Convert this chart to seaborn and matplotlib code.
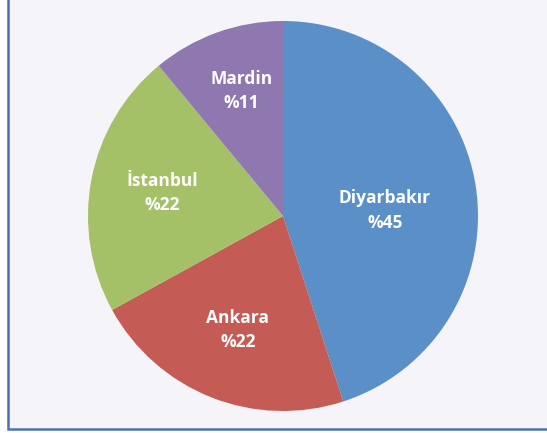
import matplotlib
matplotlib.use("Agg")
import matplotlib.pyplot as plt
import seaborn as sns
from matplotlib.patches import Rectangle

# veriler
sehirler = ["Diyarbakır", "Ankara", "İstanbul", "Mardin"]
yuzdeler = [45, 22, 22, 11]
renkler = ["#5A8FC8", "#C45B55", "#A4C167", "#8F77B0"]

sns.set_theme(style="white")
plt.rcParams['font.family'] = ['Open Sans', 'DejaVu Sans']

fig = plt.figure(figsize=(5.47, 4.33), dpi=100)
fig.patch.set_facecolor("white")

# grafik alani cercevesi
fig.patches.append(Rectangle((7.5 / 547, 4.5 / 433), 1.0, 1.0, transform=fig.transFigure,
                             facecolor="#F4F4F9", edgecolor="#4A72B0", linewidth=1.8,
                             zorder=-10))

ax = fig.add_axes([88 / 547, 22 / 433, 390 / 547, 390 / 433])
ax.set_zorder(5)
etiketler = [f"{s}\n%{v}" for s, v in zip(sehirler, yuzdeler)]
wedges, texts = ax.pie(yuzdeler, labels=etiketler, colors=renkler, startangle=90,
                       counterclock=False, labeldistance=0.63,
                       wedgeprops=dict(linewidth=0),
                       textprops=dict(color="white", fontweight="bold", fontsize=12.5,
                                      linespacing=1.45))
for t in texts:
    t.set_horizontalalignment("center")
    t.set_verticalalignment("center")
# etiketleri referanstaki yerlerine biraz kaydir
x, y = texts[0].get_position()
texts[0].set_position((x - 0.1, y - 0.07))
x, y = texts[3].get_position()
texts[3].set_position((x, y + 0.05))
ax.set_aspect("equal")
ax.set_xlim(-1, 1)
ax.set_ylim(-1, 1)
ax.axis("off")

fig.savefig("out.png", dpi=100)
